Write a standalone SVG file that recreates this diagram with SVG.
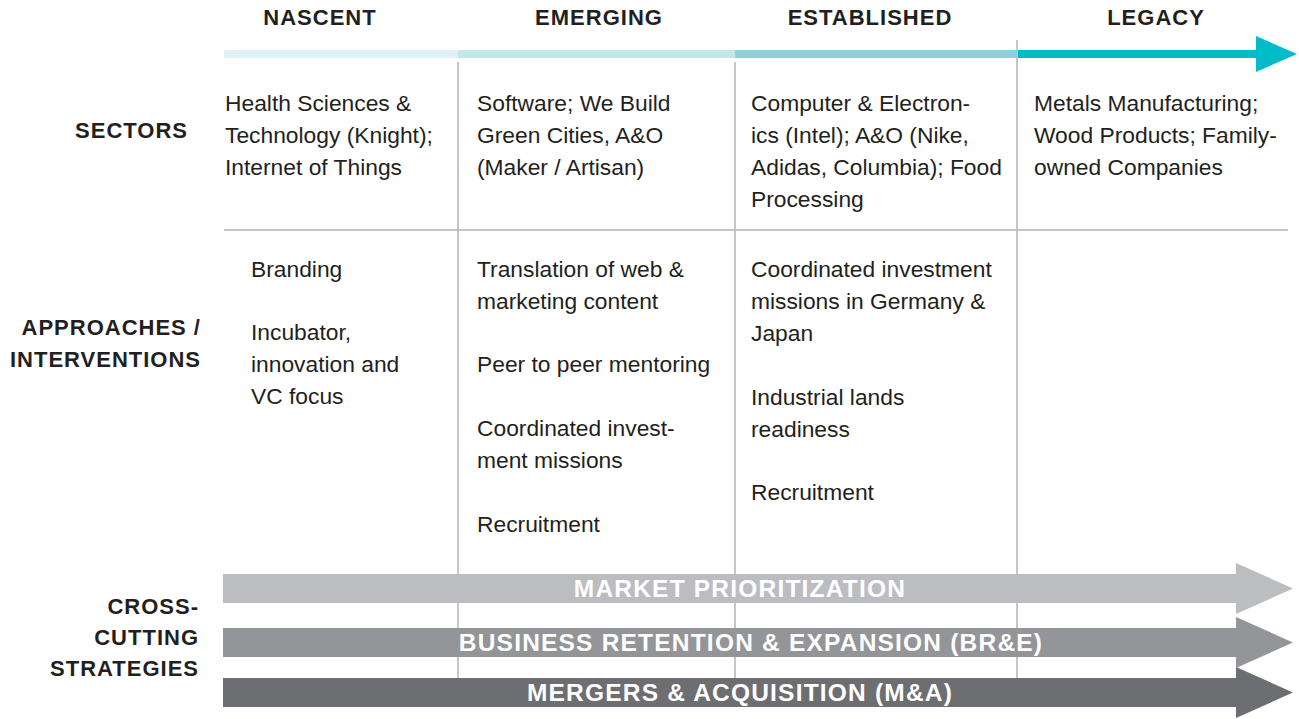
<svg xmlns="http://www.w3.org/2000/svg" width="1299" height="719" viewBox="0 0 1299 719">
<style>
.hd{font-family:"Liberation Sans",Arial,sans-serif;font-weight:bold;font-size:22px;letter-spacing:1px;fill:#231f20;text-anchor:middle}
.rl{font-family:"Liberation Sans",Arial,sans-serif;font-weight:bold;font-size:22px;letter-spacing:1px;fill:#231f20;text-anchor:end}
.tx{font-family:"Liberation Sans",Arial,sans-serif;font-size:22.8px;fill:#231f20}
.ar{font-family:"Liberation Sans",Arial,sans-serif;font-weight:bold;font-size:24.5px;letter-spacing:1.2px;fill:#ffffff;text-anchor:middle}
.gl{stroke:#b3b3b3;stroke-width:1.5;fill:none}
</style>
<rect width="1299" height="719" fill="#ffffff"/>
<g id="grid">
<line class="gl" x1="458" y1="62" x2="458" y2="678"/>
<line class="gl" x1="735" y1="62" x2="735" y2="678"/>
<line class="gl" x1="1017" y1="40" x2="1017" y2="678"/>
<line class="gl" x1="224" y1="230" x2="1288" y2="230"/>
</g>
<g id="timeline">
<rect x="224" y="50" width="234" height="8" fill="#dff1f4"/>
<rect x="458" y="50" width="277" height="8" fill="#c3e6ea"/>
<rect x="735" y="50" width="283" height="8" fill="#8dd1d9"/>
<rect x="1018" y="50" width="240" height="8" fill="#00bcc8"/>
<polygon points="1256,36 1297,54 1256,72" fill="#00bcc8"/>
</g>
<g id="headers">
<text class="hd" x="320" y="25">NASCENT</text>
<text class="hd" x="599" y="25">EMERGING</text>
<text class="hd" x="870" y="25">ESTABLISHED</text>
<text class="hd" x="1156" y="25">LEGACY</text>
</g>
<g id="row-labels">
<text class="rl" x="188" y="138">SECTORS</text>
<text class="rl" x="201" y="335">APPROACHES /</text>
<text class="rl" x="201" y="367">INTERVENTIONS</text>
<text class="rl" x="199" y="614">CROSS-</text>
<text class="rl" x="199" y="645">CUTTING</text>
<text class="rl" x="199" y="676">STRATEGIES</text>
</g>
<g id="sectors">
<text class="tx" x="225" y="111">Health Sciences &amp;</text>
<text class="tx" x="225" y="143">Technology (Knight);</text>
<text class="tx" x="225" y="175">Internet of Things</text>
<text class="tx" x="477" y="111">Software; We Build</text>
<text class="tx" x="477" y="143">Green Cities, A&amp;O</text>
<text class="tx" x="477" y="175">(Maker / Artisan)</text>
<text class="tx" x="751" y="111">Computer &amp; Electron-</text>
<text class="tx" x="751" y="143">ics (Intel); A&amp;O (Nike,</text>
<text class="tx" x="751" y="175">Adidas, Columbia); Food</text>
<text class="tx" x="751" y="207">Processing</text>
<text class="tx" x="1034" y="111">Metals Manufacturing;</text>
<text class="tx" x="1034" y="143">Wood Products; Family-</text>
<text class="tx" x="1034" y="175">owned Companies</text>
</g>
<g id="approaches">
<text class="tx" x="251" y="277">Branding</text>
<text class="tx" x="251" y="340">Incubator,</text>
<text class="tx" x="251" y="372">innovation and</text>
<text class="tx" x="251" y="404">VC focus</text>
<text class="tx" x="477" y="277">Translation of web &amp;</text>
<text class="tx" x="477" y="309">marketing content</text>
<text class="tx" x="477" y="372">Peer to peer mentoring</text>
<text class="tx" x="477" y="436">Coordinated invest-</text>
<text class="tx" x="477" y="468">ment missions</text>
<text class="tx" x="477" y="532">Recruitment</text>
<text class="tx" x="751" y="277">Coordinated investment</text>
<text class="tx" x="751" y="309">missions in Germany &amp;</text>
<text class="tx" x="751" y="341">Japan</text>
<text class="tx" x="751" y="405">Industrial lands</text>
<text class="tx" x="751" y="437">readiness</text>
<text class="tx" x="751" y="500">Recruitment</text>
</g>
<g id="strategies">
<polygon points="223,574 1236,574 1236,563 1293,588.5 1236,614 1236,603 223,603" fill="#bcbdc0"/>
<text class="ar" x="740" y="597">MARKET PRIORITIZATION</text>
<polygon points="223,628 1236,628 1236,617 1293,642.5 1236,668 1236,657 223,657" fill="#939598"/>
<text class="ar" x="751" y="651">BUSINESS RETENTION &amp; EXPANSION (BR&amp;E)</text>
<polygon points="223,678 1236,678 1236,667 1293,692.5 1236,718 1236,707 223,707" fill="#6d6e71"/>
<text class="ar" x="740" y="701">MERGERS &amp; ACQUISITION (M&amp;A)</text>
</g>
</svg>
